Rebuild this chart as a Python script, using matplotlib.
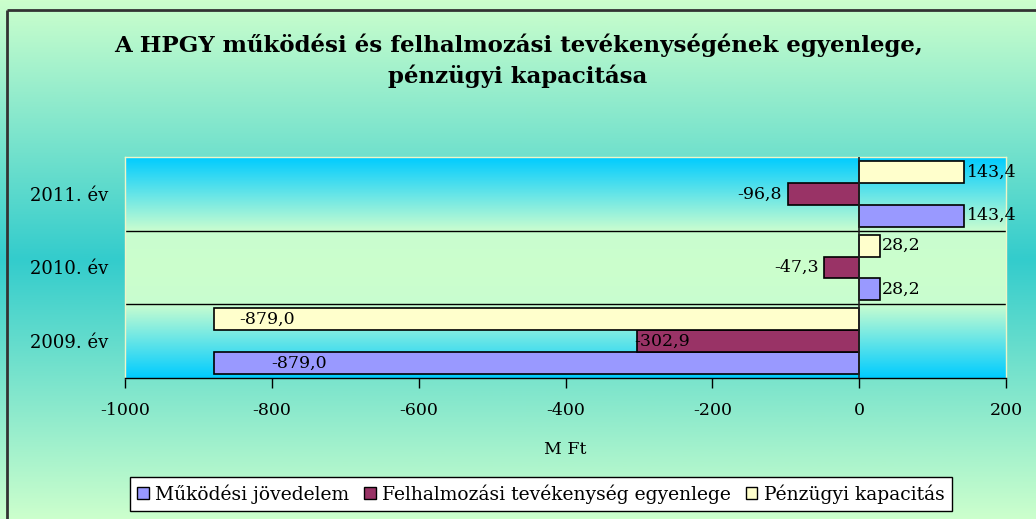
import numpy as np
import matplotlib
matplotlib.use("Agg")
import matplotlib.pyplot as plt
from matplotlib.colors import LinearSegmentedColormap

categories = ["2009. év", "2010. év", "2011. év"]
series_names = ["Működési jövedelem", "Felhalmozási tevékenység egyenlege", "Pénzügyi kapacitás"]
mukodesi = [-879.0, 28.2, 143.4]
felhalmozasi = [-302.9, -47.3, -96.8]
penzugyi = [-879.0, 28.2, 143.4]
colors = ["#9999FF", "#993366", "#FFFFCC"]
xticks = [-1000, -800, -600, -400, -200, 0, 200]
title = "A HPGY működési és felhalmozási tevékenységének egyenlege,\npénzügyi kapacitása"
xlabel = "M Ft"

FONT = "DejaVu Serif"
plt.rcParams["font.family"] = [FONT, "DejaVu Sans"]

W, H = 1036, 519
fig = plt.figure(figsize=(W / 100, H / 100), dpi=100)

# figure background gradient
bg = fig.add_axes([0, 0, 1, 1], zorder=-10)
bg.set_axis_off()
t = np.linspace(0, 1, 256)
cmap_bg = LinearSegmentedColormap.from_list("bg", ["#CCFFCC", "#33CCCC", "#CCFFCC"])
bg.imshow(t[:, None], aspect="auto", cmap=cmap_bg, extent=[0, 1, 0, 1], origin="upper")
bg.set_xlim(0, 1)
bg.set_ylim(0, 1)
yt = 1 - 10 / H
xl = 7 / W
bg.plot([xl, 1], [yt, yt], color="#333333", lw=2, solid_capstyle="butt")
bg.plot([xl, xl], [0, yt], color="#333333", lw=2, solid_capstyle="butt")

# plot area
left, right, top, bottom = 125, 1006, 157, 378
ax = fig.add_axes([left / W, 1 - bottom / H, (right - left) / W, (bottom - top) / H])
ax.patch.set_visible(False)
cmap_pa = LinearSegmentedColormap.from_list(
    "pa", [(0, "#00CCFF"), (0.33, "#C8FDD0"), (0.5, "#CCFFCC"), (0.67, "#C8FDD0"), (1, "#00CCFF")])
ax.imshow(t[:, None], aspect="auto", cmap=cmap_pa, extent=[0, 1, 0, 1],
          transform=ax.transAxes, zorder=0, origin="upper")

y = np.arange(len(categories))
h = 0.297
for vals, off, c in zip([mukodesi, felhalmozasi, penzugyi], [-h, 0, h], colors):
    ax.barh(y + off, vals, height=h, color=c, edgecolor="black", linewidth=1.2, zorder=3)

ax.set_xlim(-1000, 200)
ax.set_ylim(-0.5, 2.5)
for g in [0.5, 1.5]:
    ax.axhline(g, color="black", lw=1, zorder=2)
ax.axvline(0, color="#222222", lw=1.2, zorder=4)

ax.set_xticks(xticks)
ax.set_xticklabels([str(v) for v in xticks])
ax.tick_params(axis="x", direction="out", length=7, width=1, pad=10, labelsize=12.5)
ax.set_yticks(y)
ax.set_yticklabels(categories)
ax.tick_params(axis="y", length=0, pad=12, labelsize=13)
for s in ["top", "left", "right"]:
    ax.spines[s].set_color("#EEF5C8")
    ax.spines[s].set_linewidth(1)
ax.spines["bottom"].set_color("black")
ax.spines["bottom"].set_linewidth(1)

ax.set_xlabel(xlabel, fontsize=12.5, labelpad=16)

def fmt(v):
    return f"{v:.1f}".replace(".", ",")

LFS = 12.5
special = {(0, 2): ("left", 34), (0, 0): ("left", 78), (0, 1): ("left", -4)}
for si, (vals, off) in enumerate(zip([mukodesi, felhalmozasi, penzugyi], [-h, 0, h])):
    for ci, v in enumerate(vals):
        key = (ci, si)
        if key in special:
            ha, dx = special[key]
            ax.text(v + dx, ci + off, fmt(v), ha=ha, va="center", fontsize=LFS, zorder=5)
        elif v >= 0:
            ax.text(v + 3, ci + off, fmt(v), ha="left", va="center", fontsize=LFS, zorder=5)
        else:
            ax.text(v - 8, ci + off, fmt(v), ha="right", va="center", fontsize=LFS, zorder=5)

fig.text(0.5, 1 - 61 / H, title, ha="center", va="center", fontsize=16.5,
         fontweight="bold", linespacing=1.4)

handles = [plt.Rectangle((0, 0), 1, 1, facecolor=c, edgecolor="black", lw=1) for c in colors]
leg = fig.legend(handles, series_names, loc="center", bbox_to_anchor=(541 / W, 1 - 494 / H),
                 ncol=3, frameon=True, fancybox=False, edgecolor="black", framealpha=1,
                 fontsize=13.5, handlelength=0.6, handleheight=0.6, handletextpad=0.35,
                 columnspacing=0.8, borderpad=0.4, borderaxespad=0)
leg.get_frame().set_linewidth(1)

fig.savefig("out.png", dpi=100)
